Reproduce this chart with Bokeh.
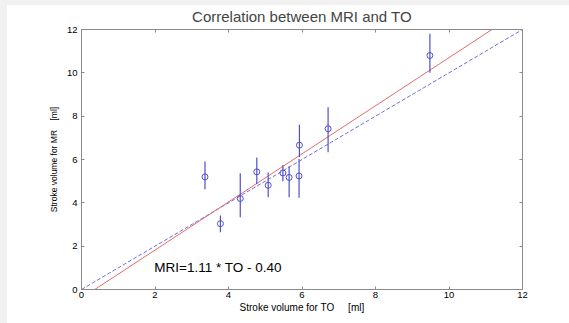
from bokeh.plotting import figure
from bokeh.models import Range1d, FixedTicker, LinearAxis, Label, ColumnDataSource, CustomJSTickFormatter
from bokeh.embed import file_html
from bokeh.resources import INLINE

# Data
to_vals = [3.36, 3.78, 4.32, 4.77, 5.08, 5.48, 5.65, 5.93, 5.92, 6.71, 9.48]
mri_vals = [5.20, 3.04, 4.20, 5.43, 4.81, 5.38, 5.17, 6.66, 5.24, 7.42, 10.80]
err_hi = [5.91, 3.41, 5.37, 6.09, 5.40, 5.75, 5.68, 7.60, 6.02, 8.41, 11.80]
err_lo = [4.63, 2.64, 3.33, 4.87, 4.26, 5.00, 4.26, 6.11, 4.23, 6.34, 10.00]
slope = 1.11
intercept = -0.40
ticks = [0, 2, 4, 6, 8, 10, 12]
axis_max = 12
NB = "\u00a0"
title_text = "Correlation between MRI and TO"
xlabel = "Stroke volume for TO" + NB * 5 + "[ml]"
ylabel = "Stroke volume for MR" + NB * 4 + "[ml]"
eq_text = "MRI=1.11 * TO - 0.40"
eq_x, eq_y = 1.98, 1.02

FONT = "Liberation Sans"
BLUE = "#5050c8"
RED = "#e26c6c"
AXC = "#8a8a8a"

p = figure(width=569, height=323, output_backend="svg", toolbar_location=None,
           x_range=Range1d(0, axis_max), y_range=Range1d(0, axis_max),
           min_border_left=81, min_border_right=47, min_border_top=29, min_border_bottom=34,
           background_fill_color="white", border_fill_color=None,
           styles={"background-color": "white",
                   "box-shadow": "inset 7px 5px 0 0 #f1f1f1"})
p.title.text = title_text
p.title.align = "center"
p.title.text_font = FONT
p.title.text_font_size = "15px"
p.title.text_font_style = "normal"
p.title.offset = 0
p.grid.visible = False
p.outline_line_color = AXC

src = ColumnDataSource(dict(x=to_vals, y=mri_vals, lo=err_lo, hi=err_hi))

# identity line (dashed blue)
p.line([0, axis_max], [0, axis_max], line_color="#7070dc", line_dash="4 2", line_width=1)
# regression line (red)
x0 = -intercept / slope
x1 = (axis_max - intercept) / slope
p.line([x0, x1], [slope * x0 + intercept, slope * x1 + intercept], line_color=RED, line_width=1)

p.segment(x0="x", y0="lo", x1="x", y1="hi", source=src, line_color=BLUE, line_width=1.2)
p.scatter("x", "y", source=src, marker="circle", size=6, fill_color=None,
          line_color=BLUE, line_width=1)

p.add_layout(Label(x=eq_x, y=eq_y, text=eq_text, text_font=FONT, text_font_size="13.5px",
                   text_baseline="middle", text_align="left", text_color="black"))

for ax in (p.xaxis[0], p.yaxis[0]):
    ax.ticker = FixedTicker(ticks=ticks)
    ax.major_tick_in = 3
    ax.major_tick_out = 0
    ax.minor_tick_in = 0
    ax.minor_tick_out = 0
    ax.axis_line_color = AXC
    ax.major_tick_line_color = AXC
    ax.major_label_text_font = FONT
    ax.major_label_text_font_size = "9.5px"
    ax.major_label_text_color = "black"
    ax.axis_label_text_font = FONT
    ax.axis_label_text_font_style = "normal"
    ax.axis_label_text_color = "black"
p.xaxis[0].axis_label = xlabel
p.yaxis[0].axis_label = ylabel
p.xaxis[0].axis_label_text_font_size = "10px"
p.yaxis[0].axis_label_text_font_size = "8.5px"
p.xaxis[0].major_label_standoff = 2
p.yaxis[0].major_label_standoff = 4
p.xaxis[0].axis_label_standoff = 1
p.yaxis[0].axis_label_standoff = 5

for loc in ("above", "right"):
    ax = LinearAxis(ticker=FixedTicker(ticks=ticks), major_tick_in=3, major_tick_out=0,
                    minor_tick_in=0, minor_tick_out=0, axis_line_color=AXC,
                    major_tick_line_color=AXC,
                    formatter=CustomJSTickFormatter(code="return ''"),
                    major_label_standoff=0)
    p.add_layout(ax, loc)

open("out.html", "w").write(file_html(p, INLINE))
